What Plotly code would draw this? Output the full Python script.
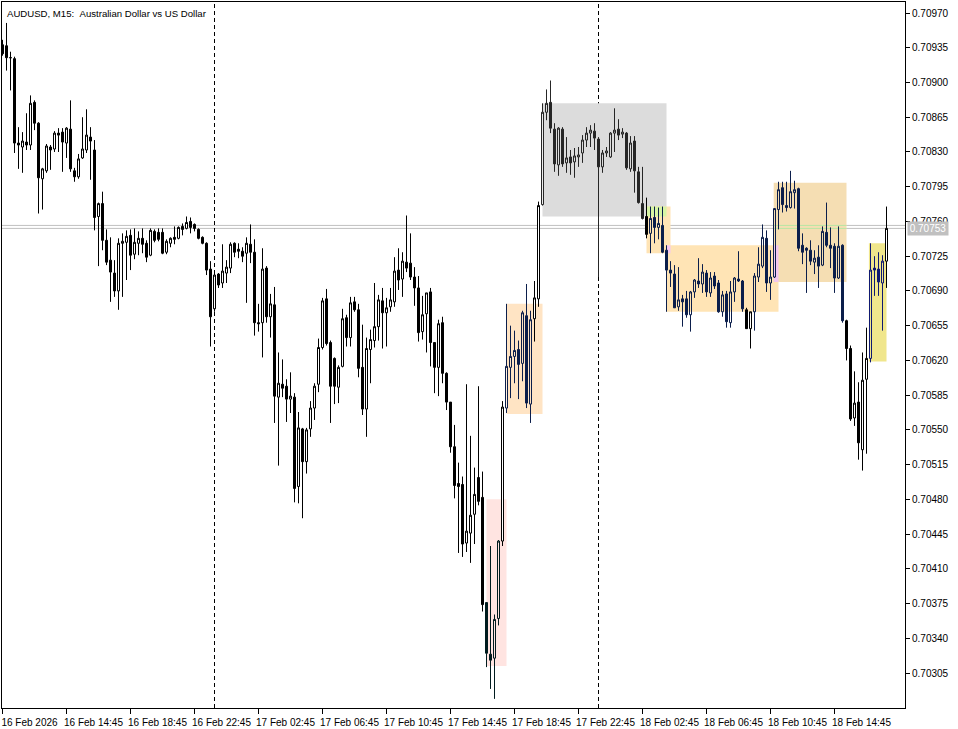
import pandas as pd
import plotly.graph_objects as go

# ---------------- data ----------------
chart_title = "AUDUSD, M15:\u00a0\u00a0Australian Dollar vs US Dollar"
start_time = "2026-02-16 10:45"
bar_freq = "15min"
POINT = 1e-5  # prices below are stored in points (0.00001)

open_pts = [70938, 70937, 70925, 70924, 70839, 70835, 70840, 70837, 70880, 70859,
            70803, 70811, 70835, 70833, 70849, 70850, 70839, 70853, 70811, 70805,
            70824, 70832, 70845, 70832, 70765, 70778, 70741, 70721, 70708, 70690,
            70738, 70739, 70746, 70727, 70738, 70743, 70738, 70726, 70750, 70749,
            70749, 70729, 70738, 70744, 70743, 70755, 70753, 70760, 70757, 70752,
            70744, 70738, 70712, 70672, 70707, 70698, 70708, 70713, 70738, 70732,
            70730, 70728, 70737, 70729, 70658, 70658, 70713, 70664, 70676, 70583,
            70596, 70594, 70581, 70583, 70493, 70551, 70518, 70551, 70572, 70596,
            70633, 70682, 70638, 70622, 70593, 70614, 70663, 70643, 70679, 70671,
            70613, 70571, 70631, 70640, 70654, 70680, 70668, 70674, 70679, 70711,
            70702, 70719, 70718, 70704, 70693, 70649, 70667, 70689, 70638, 70613,
            70658, 70607, 70578, 70533, 70496, 70495, 70436, 70446, 70465, 70502,
            70482, 70376, 70324, 70320, 70360, 70438, 70572, 70613, 70624, 70631,
            70617, 70665, 70576, 70662, 70682, 70777, 70870, 70880, 70853, 70817,
            70853, 70819, 70825, 70820, 70825, 70829, 70842, 70849, 70851, 70843,
            70815, 70829, 70825, 70849, 70853, 70848, 70849, 70813, 70841, 70810,
            70778, 70765, 70748, 70764, 70754, 70756, 70731, 70711, 70707, 70674,
            70682, 70682, 70666, 70689, 70700, 70697, 70708, 70688, 70705, 70698,
            70669, 70687, 70658, 70689, 70702, 70700, 70671, 70652, 70669, 70704,
            70715, 70743, 70698, 70704, 70772, 70794, 70776, 70774, 70789, 70793,
            70736, 70733, 70731, 70719, 70724, 70716, 70749, 70736, 70735, 70703,
            70736, 70660, 70632, 70562, 70578, 70530, 70601, 70622, 70713, 70712,
            70698, 70720]

high_pts = [70943, 70960, 70931, 70926, 70855, 70850, 70869, 70887, 70882, 70860,
            70814, 70838, 70837, 70851, 70854, 70854, 70855, 70882, 70814, 70828,
            70865, 70873, 70855, 70842, 70779, 70790, 70752, 70744, 70721, 70743,
            70748, 70751, 70752, 70753, 70750, 70753, 70741, 70753, 70752, 70753,
            70753, 70742, 70744, 70755, 70755, 70758, 70765, 70764, 70758, 70753,
            70745, 70739, 70720, 70709, 70708, 70737, 70721, 70739, 70739, 70738,
            70734, 70744, 70757, 70742, 70677, 70733, 70715, 70687, 70694, 70628,
            70621, 70601, 70608, 70587, 70568, 70552, 70552, 70579, 70597, 70642,
            70683, 70692, 70640, 70623, 70615, 70672, 70666, 70684, 70684, 70677,
            70656, 70643, 70651, 70698, 70686, 70693, 70683, 70693, 70724, 70733,
            70729, 70766, 70748, 70714, 70705, 70685, 70688, 70693, 70638, 70661,
            70664, 70608, 70578, 70555, 70517, 70503, 70596, 70544, 70512, 70594,
            70508, 70376, 70433, 70364, 70439, 70579, 70677, 70655, 70650, 70640,
            70670, 70697, 70670, 70700, 70780, 70879, 70893, 70902, 70859, 70855,
            70855, 70845, 70832, 70834, 70835, 70847, 70855, 70857, 70859, 70845,
            70832, 70835, 70850, 70874, 70863, 70854, 70850, 70846, 70846, 70815,
            70815, 70784, 70775, 70775, 70774, 70775, 70736, 70720, 70716, 70714,
            70686, 70690, 70690, 70702, 70723, 70717, 70711, 70709, 70709, 70701,
            70690, 70690, 70700, 70704, 70730, 70701, 70673, 70669, 70708, 70734,
            70757, 70751, 70731, 70773, 70800, 70800, 70800, 70811, 70801, 70794,
            70748, 70734, 70741, 70731, 70736, 70755, 70779, 70754, 70738, 70755,
            70737, 70661, 70635, 70609, 70598, 70628, 70653, 70738, 70725, 70729,
            70726, 70775]

low_pts = [70927, 70912, 70892, 70829, 70813, 70809, 70832, 70832, 70852, 70768,
           70772, 70809, 70812, 70830, 70830, 70810, 70824, 70810, 70800, 70803,
           70823, 70829, 70802, 70751, 70715, 70731, 70716, 70679, 70684, 70671,
           70684, 70701, 70711, 70722, 70726, 70728, 70719, 70725, 70739, 70740,
           70727, 70727, 70734, 70737, 70742, 70746, 70752, 70748, 70750, 70742,
           70737, 70706, 70634, 70669, 70693, 70693, 70698, 70708, 70724, 70723,
           70719, 70678, 70718, 70645, 70649, 70623, 70658, 70643, 70557, 70514,
           70583, 70558, 70567, 70477, 70476, 70461, 70506, 70543, 70560, 70588,
           70631, 70635, 70557, 70576, 70577, 70613, 70634, 70634, 70669, 70603,
           70565, 70543, 70597, 70633, 70640, 70632, 70634, 70669, 70674, 70691,
           70684, 70709, 70701, 70675, 70639, 70641, 70628, 70614, 70587, 70584,
           70597, 70570, 70527, 70481, 70426, 70422, 70427, 70416, 70435, 70474,
           70367, 70311, 70289, 70279, 70353, 70433, 70567, 70582, 70597, 70581,
           70599, 70572, 70557, 70639, 70674, 70776, 70862, 70849, 70810, 70806,
           70815, 70809, 70807, 70804, 70815, 70819, 70835, 70835, 70832, 70704,
           70809, 70825, 70824, 70830, 70842, 70844, 70812, 70810, 70789, 70778,
           70762, 70743, 70728, 70738, 70742, 70728, 70669, 70694, 70673, 70670,
           70654, 70663, 70649, 70683, 70693, 70688, 70684, 70684, 70692, 70668,
           70664, 70653, 70653, 70679, 70699, 70669, 70652, 70632, 70650, 70699,
           70713, 70689, 70681, 70703, 70752, 70769, 70770, 70773, 70773, 70730,
           70717, 70688, 70716, 70707, 70693, 70715, 70734, 70713, 70688, 70702,
           70658, 70620, 70559, 70554, 70520, 70509, 70526, 70618, 70685, 70685,
           70650, 70693]

close_pts = [70929, 70925, 70925, 70839, 70837, 70841, 70837, 70879, 70859, 70804,
             70813, 70836, 70832, 70849, 70847, 70840, 70854, 70813, 70805, 70823,
             70833, 70847, 70841, 70764, 70778, 70741, 70719, 70709, 70690, 70738,
             70740, 70745, 70726, 70739, 70743, 70737, 70724, 70751, 70741, 70742,
             70728, 70740, 70743, 70742, 70754, 70752, 70759, 70754, 70753, 70743,
             70738, 70711, 70664, 70706, 70696, 70710, 70714, 70737, 70729, 70730,
             70725, 70738, 70729, 70658, 70657, 70712, 70664, 70677, 70584, 70597,
             70592, 70581, 70584, 70491, 70552, 70518, 70550, 70572, 70594, 70633,
             70680, 70637, 70594, 70594, 70613, 70662, 70643, 70678, 70671, 70612,
             70571, 70632, 70641, 70654, 70681, 70668, 70673, 70681, 70710, 70701,
             70720, 70713, 70704, 70693, 70648, 70666, 70688, 70638, 70613, 70657,
             70607, 70578, 70533, 70494, 70493, 70435, 70448, 70464, 70485, 70478,
             70374, 70325, 70318, 70359, 70438, 70573, 70614, 70624, 70630, 70616,
             70668, 70577, 70661, 70683, 70776, 70870, 70879, 70854, 70818, 70854,
             70818, 70824, 70819, 70826, 70827, 70842, 70849, 70852, 70844, 70815,
             70829, 70831, 70849, 70852, 70847, 70850, 70814, 70839, 70811, 70779,
             70763, 70747, 70763, 70754, 70758, 70729, 70711, 70708, 70673, 70681,
             70679, 70666, 70689, 70701, 70697, 70709, 70689, 70703, 70695, 70669,
             70686, 70659, 70689, 70703, 70700, 70672, 70652, 70669, 70705, 70717,
             70744, 70698, 70704, 70773, 70792, 70777, 70774, 70790, 70792, 70733,
             70729, 70731, 70720, 70723, 70715, 70750, 70736, 70733, 70703, 70735,
             70660, 70632, 70561, 70577, 70537, 70600, 70622, 70711, 70711, 70699,
             70720, 70753]

bid_price = 0.70753
ask_price = 0.70756

day_separators = ["2026-02-17 00:00", "2026-02-18 00:00"]

x_tick_times = ["2026-02-16 10:45", "2026-02-16 14:45", "2026-02-16 18:45", "2026-02-16 22:45",
                "2026-02-17 02:45", "2026-02-17 06:45", "2026-02-17 10:45", "2026-02-17 14:45",
                "2026-02-17 18:45", "2026-02-17 22:45", "2026-02-18 02:45", "2026-02-18 06:45",
                "2026-02-18 10:45", "2026-02-18 14:45"]
x_tick_labels = ["16 Feb 2026", "16 Feb 14:45", "16 Feb 18:45", "16 Feb 22:45",
                 "17 Feb 02:45", "17 Feb 06:45", "17 Feb 10:45", "17 Feb 14:45",
                 "17 Feb 18:45", "17 Feb 22:45", "18 Feb 02:45", "18 Feb 06:45",
                 "18 Feb 10:45", "18 Feb 14:45"]

y_tick_values = [0.70305, 0.70340, 0.70375, 0.70410, 0.70445, 0.70480, 0.70515,
                 0.70550, 0.70585, 0.70620, 0.70655, 0.70690, 0.70725, 0.70760,
                 0.70795, 0.70830, 0.70865, 0.70900, 0.70935, 0.70970]

# zone rectangles: start time, end time, top price, bottom price
zone_starts = ["2026-02-17 17:00", "2026-02-17 18:15", "2026-02-17 20:30", "2026-02-18 03:00",
               "2026-02-18 04:15", "2026-02-18 10:57", "2026-02-18 16:54"]
zone_ends = ["2026-02-17 18:15", "2026-02-17 20:30", "2026-02-18 04:15", "2026-02-18 04:30",
             "2026-02-18 11:15", "2026-02-18 15:30", "2026-02-18 18:00"]
zone_tops = [0.70480, 0.70677, 0.70879, 0.70775, 0.70736, 0.70799, 0.70738]
zone_bottoms = [0.70312, 0.70566, 0.70765, 0.70728, 0.70669, 0.70699, 0.70619]

# ---------------- styling ----------------
zone_colors = ["#FFE4E1", "#FFE4C4", "#DCDCDC", "#FFE4B5", "#FFE4B5", "#F5DEB3", "#F0E68C"]
# where rectangles overlap the terminal blends colours
overlap_starts = ["2026-02-18 03:00", "2026-02-18 04:15", "2026-02-18 10:57"]
overlap_ends = ["2026-02-18 04:15", "2026-02-18 04:30", "2026-02-18 11:15"]
overlap_tops = [0.70775, 0.70736, 0.70736]
overlap_bottoms = [0.70765, 0.70728, 0.70699]
overlap_colors = ["#D6F4A4", "#F6C8F0", "#F2C6EE"]

# candle colour bands (first index, last index, colour)
tint_bands = [(121, 124, "#001B1E"), (126, 132, "#0B1E4B"), (135, 160, "#262626"),
              (162, 185, "#0B1E4B"), (188, 210, "#0B1E4B"), (217, 220, "#0F1973")]

FONT = "Liberation Sans, Arial, sans-serif"
BAR_MIN = 15
VISIBLE_BARS_LEFT = -0.125   # half a pixel before the first bar, so 1px lines sit on pixel centres
VISIBLE_BARS_RIGHT = 225.625

# ---------------- build ----------------
n = len(open_pts)
times = pd.date_range(start_time, periods=n, freq=bar_freq)
o = [v * POINT for v in open_pts]
h = [v * POINT for v in high_pts]
l = [v * POINT for v in low_pts]
c = [v * POINT for v in close_pts]

color_of = ["#000000"] * n
for a, b, col in tint_bands:
    for i in range(a, b + 1):
        color_of[i] = col

fig = go.Figure()
for col in dict.fromkeys(color_of):
    idx = [i for i in range(n) if color_of[i] == col]
    inc_fill = "#FFFFFF" if col == "#000000" else "rgba(0,0,0,0)"
    fig.add_trace(go.Candlestick(
        x=[times[i] for i in idx],
        open=[o[i] for i in idx], high=[h[i] for i in idx],
        low=[l[i] for i in idx], close=[c[i] for i in idx],
        increasing=dict(line=dict(color=col, width=1), fillcolor=inc_fill),
        decreasing=dict(line=dict(color=col, width=1), fillcolor=col),
        whiskerwidth=0, showlegend=False, hoverinfo="skip",
    ))

shapes = []
for x0, x1, y0, y1, col in zip(zone_starts, zone_ends, zone_tops, zone_bottoms, zone_colors):
    shapes.append(dict(type="rect", xref="x", yref="y", x0=x0, x1=x1, y0=y0, y1=y1,
                       fillcolor=col, line=dict(width=0), layer="below"))
for x0, x1, y0, y1, col in zip(overlap_starts, overlap_ends, overlap_tops, overlap_bottoms, overlap_colors):
    shapes.append(dict(type="rect", xref="x", yref="y", x0=x0, x1=x1, y0=y0, y1=y1,
                       fillcolor=col, line=dict(width=0), layer="below"))
for p in (ask_price, bid_price):
    shapes.append(dict(type="line", xref="paper", yref="y", x0=0, x1=1, y0=p, y1=p,
                       line=dict(color="#C0C0C0", width=1), layer="below"))
    shapes.append(dict(type="line", xref="x", yref="y", x0=zone_starts[5], x1=zone_ends[5], y0=p, y1=p,
                       line=dict(color="#B8E6A4", width=1), layer="below"))
for d in day_separators:
    shapes.append(dict(type="line", xref="x", yref="paper", x0=d, x1=d, y0=0, y1=1,
                       line=dict(color="#000000", width=1, dash="4px,3px"), layer="below"))

x_start = times[0] + pd.Timedelta(minutes=BAR_MIN * VISIBLE_BARS_LEFT)
x_end = times[0] + pd.Timedelta(minutes=BAR_MIN * VISIBLE_BARS_RIGHT)

fig.update_layout(
    width=958, height=729,
    margin=dict(l=2, r=53, t=2, b=21, autoexpand=False),
    paper_bgcolor="#FFFFFF", plot_bgcolor="#FFFFFF",
    font=dict(family=FONT, size=10, color="#000000"),
    boxgap=0.5, boxgroupgap=0,
    shapes=shapes,
    xaxis=dict(
        type="date", range=[x_start, x_end], rangeslider=dict(visible=False),
        showgrid=False, zeroline=False, showline=True, linecolor="#000000", linewidth=1,
        mirror=True, ticks="outside", ticklen=5, tickcolor="#000000",
        tickvals=x_tick_times, ticktext=x_tick_labels, ticklabelshift=27,
        tickfont=dict(family=FONT, size=10, color="#000000"),
    ),
    yaxis=dict(
        side="right", range=[0.702698, 0.709811],
        showgrid=False, zeroline=False, showline=True, linecolor="#000000", linewidth=1,
        mirror=True, ticks="outside", ticklen=4, tickcolor="#000000",
        tickvals=y_tick_values, ticktext=[f"{v:.5f}" for v in y_tick_values],
        tickfont=dict(family=FONT, size=10, color="#000000"),
    ),
    annotations=[
        dict(text=chart_title, xref="paper", yref="paper", x=0, y=1, xanchor="left", yanchor="top",
             xshift=3, yshift=-4, showarrow=False, font=dict(family=FONT, size=9.6, color="#000000")),
        dict(text=f"{bid_price:.5f}", xref="paper", yref="y", x=1, y=bid_price, xanchor="left",
             yanchor="middle", xshift=2, showarrow=False, bgcolor="#C0C0C0", borderpad=1,
             width=38, font=dict(family=FONT, size=10, color="#FFFFFF")),
    ],
)

fig.write_html("out.html", config={"displayModeBar": False},
               post_script="document.body.style.margin='0px';")
